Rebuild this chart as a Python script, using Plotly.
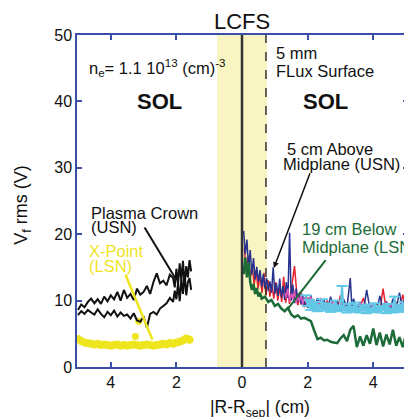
import plotly.graph_objects as go

# ---------------- data ----------------
# Left side (plotted at negative positions, labelled as |R-Rsep|)
crown_x = [-5.0,-4.9,-4.8,-4.7,-4.6,-4.5,-4.4,-4.3,-4.2,-4.1,-4.0,-3.9,-3.8,-3.7,-3.6,-3.5,-3.4,-3.3,-3.2,-3.1,-3.0,-2.9,-2.8,-2.7,-2.6,-2.5,-2.4,-2.3,-2.2,-2.1,-2.05,-2.0,-1.95,-1.9,-1.85,-1.8,-1.75,-1.7,-1.65,-1.6,-1.55]
crown_a = [8.6,9.4,9.0,9.8,10.3,9.6,10.2,9.5,10.6,9.9,10.8,10.2,11.3,10.0,11.6,10.4,11.0,10.1,11.8,10.9,11.3,12.2,11.0,12.8,14.1,12.6,13.0,12.3,13.9,13.4,12.0,14.8,12.5,15.6,13.0,16.0,12.2,15.2,13.5,16.1,14.4]
crown_b = [7.8,8.4,8.0,8.6,8.2,7.9,8.7,8.0,7.5,8.3,7.8,8.5,7.6,8.2,7.7,7.9,7.3,8.1,7.0,6.8,7.6,5.9,8.0,8.3,7.9,8.8,9.2,9.6,10.4,9.8,11.5,10.2,12.6,9.9,13.2,11.0,14.0,10.8,12.8,13.4,11.6]

xpt_x = [-5.0,-4.9,-4.8,-4.7,-4.6,-4.5,-4.4,-4.3,-4.2,-4.1,-4.0,-3.9,-3.8,-3.7,-3.6,-3.5,-3.4,-3.3,-3.2,-3.1,-3.0,-2.9,-2.8,-2.7,-2.6,-2.5,-2.4,-2.3,-2.2,-2.1,-2.0,-1.9,-1.8,-1.7,-1.6]
xpt_y = [4.2,3.9,3.7,3.6,3.5,3.4,3.5,3.3,3.4,3.3,3.2,3.3,3.4,3.2,3.3,3.2,3.3,3.4,3.3,3.2,3.3,3.4,3.3,3.2,3.3,3.4,3.5,3.4,3.6,3.5,3.7,3.8,4.0,4.3,4.1]
xpt_out_x = [-3.25, -3.15]
xpt_out_y = [4.6, 6.9]

# Right side
blue_x = [0.05,0.1,0.15,0.2,0.25,0.3,0.35,0.4,0.45,0.5,0.55,0.6,0.65,0.7,0.75,0.8,0.85,0.9,0.95,1.0,1.05,1.1,1.15,1.2,1.25,1.3,1.35,1.4,1.45,1.5,1.55,1.6,1.65,1.7,1.75,1.8,1.85,1.9,1.95,2.0,2.1,2.2,2.3,2.4,2.5,2.6,2.7,2.8,2.9,3.0,3.1,3.2,3.3,3.35,3.4,3.5,3.6,3.7,3.8,3.9,4.0,4.1,4.2,4.3,4.4,4.5,4.6,4.7,4.8,4.9,5.0]
blue_y = [20.5,17.0,19.2,14.8,17.6,13.9,16.4,13.2,15.1,12.8,14.6,12.1,14.0,11.8,13.4,11.5,12.9,11.2,15.0,11.0,12.6,10.7,13.3,10.5,12.2,10.1,12.8,10.4,20.2,10.0,12.4,9.6,11.8,9.8,11.2,9.4,10.9,9.1,10.6,8.9,10.8,8.6,10.4,8.8,10.1,8.5,10.6,8.7,9.9,8.4,10.2,8.9,13.4,9.0,10.3,8.6,9.8,8.4,11.6,8.7,9.5,8.3,10.7,8.6,9.9,8.2,10.3,8.8,11.2,8.5,10.0]

red_x = [0.07,0.13,0.19,0.25,0.31,0.37,0.43,0.49,0.55,0.61,0.67,0.73,0.79,0.85,0.91,0.97,1.03,1.09,1.15,1.21,1.27,1.33,1.39,1.45,1.51,1.6,1.7,1.8,1.9,2.0,2.1,2.2,2.3,2.4,2.5,2.6,2.7,2.8,2.9,3.0,3.1,3.2,3.3,3.4,3.5,3.6,3.7,3.8,3.9,4.0,4.1,4.2,4.3,4.4,4.5,4.6,4.7,4.8,4.9,5.0]
red_y = [18.0,14.5,16.8,13.2,15.5,12.4,14.6,11.8,13.9,11.2,14.2,10.8,13.1,10.6,12.5,10.3,12.8,10.0,12.0,9.8,13.6,9.7,11.5,9.5,11.9,15.2,9.3,11.2,9.0,10.5,8.8,9.9,8.5,10.2,8.7,10.0,8.4,9.4,8.6,10.8,8.5,9.3,8.4,9.7,8.6,9.1,10.4,8.5,9.2,8.2,9.6,8.5,11.8,8.4,9.3,8.6,9.8,8.3,10.9,9.0]

pink_x = [1.3,1.35,1.4,1.45,1.5,1.55,1.6,1.65,1.7,1.75,1.8,1.85,1.9,1.95,2.0,2.05,2.1,2.15,2.2,2.25,2.3,2.35,2.4,2.45,2.5,2.6,2.8,3.0,3.2,3.4,3.6,3.8,4.0,4.2,4.4,4.6,4.8,5.0]
pink_y = [11.2,10.4,11.8,9.9,11.0,10.2,11.5,9.6,10.8,9.8,10.9,9.4,10.5,9.7,10.3,9.2,10.6,9.5,10.1,9.0,9.9,9.3,10.4,8.9,9.6,9.2,9.8,9.0,9.5,8.8,9.6,9.1,9.3,8.9,9.7,9.0,9.4,9.2]

lb_x = [1.95,2.0,2.05,2.1,2.15,2.2,2.25,2.3,2.35,2.4,2.45,2.5,2.55,2.6,2.65,2.7,2.75,2.8,2.85,2.9,2.95,3.0,3.05,3.1,3.15,3.2,3.25,3.3,3.35,3.4,3.45,3.5,3.55,3.6,3.65,3.7,3.75,3.8,3.85,3.9,3.95,4.0,4.05,4.1,4.15,4.2,4.25,4.3,4.35,4.4,4.45,4.5,4.55,4.6,4.65,4.7,4.75,4.8,4.85,4.9,4.95,5.0]
lb_y = [10.8,9.2,10.1,8.6,9.5,8.9,9.8,8.4,9.3,8.8,10.2,8.5,9.6,8.7,9.1,8.3,9.4,8.6,10.0,8.4,9.2,8.8,12.2,8.5,9.0,8.2,9.5,8.6,9.1,8.3,9.7,8.5,8.9,8.2,9.3,8.6,9.0,8.1,9.4,8.5,8.8,8.3,9.6,8.4,9.0,8.2,9.2,8.6,8.9,8.1,9.5,8.4,8.8,8.2,10.6,8.5,9.1,8.3,9.4,8.6,9.8,8.8]

green_x = [0.05,0.1,0.15,0.2,0.25,0.3,0.35,0.4,0.45,0.5,0.55,0.6,0.7,0.8,0.9,1.0,1.1,1.2,1.3,1.4,1.5,1.6,1.7,1.8,1.9,2.0,2.1,2.2,2.3,2.4,2.5,2.6,2.7,2.8,2.9,3.0,3.1,3.2,3.3,3.4,3.5,3.6,3.7,3.8,3.9,4.0,4.1,4.2,4.3,4.4,4.5,4.6,4.7,4.8,4.9,5.0]
green_y = [14.0,16.5,13.5,15.8,12.8,11.6,12.5,11.0,11.9,10.6,11.2,10.3,10.6,9.8,10.1,9.2,9.5,8.8,8.4,8.9,7.9,7.5,7.8,7.3,7.4,7.1,6.9,5.5,4.2,4.4,4.0,4.1,3.8,3.7,3.6,4.3,4.8,3.9,5.6,6.2,3.0,4.6,3.2,4.8,3.5,5.8,3.3,5.2,3.1,4.9,3.4,5.6,3.2,4.5,3.0,5.0]

x_tickvals = [-4, -2, 0, 2, 4]
x_ticktext = ["4", "2", "0", "2", "4"]
y_tickvals = [0, 10, 20, 30, 40, 50]

# ---------------- figure ----------------
AX = "#3c4fa8"
FONT = "Liberation Sans, Arial, sans-serif"
YEL = "#efe51f"
GRN = "#1c6b38"
BLK = "#111111"
TS = 16.5

fig = go.Figure()

fig.add_trace(go.Scatter(x=xpt_x, y=xpt_y, mode="lines+markers",
                         line=dict(color=YEL, width=6),
                         marker=dict(color=YEL, size=8)))
fig.add_trace(go.Scatter(x=xpt_out_x, y=xpt_out_y, mode="markers",
                         marker=dict(color=YEL, size=7)))
fig.add_trace(go.Scatter(x=crown_x, y=crown_a, mode="lines",
                         line=dict(color=BLK, width=2)))
fig.add_trace(go.Scatter(x=crown_x, y=crown_b, mode="lines",
                         line=dict(color=BLK, width=2)))

fig.add_trace(go.Scatter(x=red_x, y=red_y, mode="lines",
                         line=dict(color="#e3222c", width=1.5)))
fig.add_trace(go.Scatter(x=blue_x, y=blue_y, mode="lines",
                         line=dict(color="#27338f", width=1.5)))
fig.add_trace(go.Scatter(x=pink_x, y=pink_y, mode="lines",
                         line=dict(color="#e055b5", width=1.5)))
fig.add_trace(go.Scatter(x=lb_x, y=lb_y, mode="lines+markers",
                         line=dict(color="#62c8e6", width=2),
                         marker=dict(symbol="line-ew-open", size=8,
                                     line=dict(color="#62c8e6", width=2))))
fig.add_trace(go.Scatter(x=green_x, y=green_y, mode="lines",
                         line=dict(color=GRN, width=2.5)))

# Shapes: LCFS band and lines, annotation pointers
fig.add_shape(type="rect", x0=-0.76, x1=0.76, y0=0, y1=50, xref="x", yref="y",
              fillcolor="#f8f5c2", line=dict(width=0), layer="below")
fig.add_shape(type="line", x0=0, x1=0, y0=0, y1=50, xref="x", yref="y",
              line=dict(color="#333333", width=2.5))
fig.add_shape(type="line", x0=0.73, x1=0.73, y0=0, y1=50, xref="x", yref="y",
              line=dict(color="#333333", width=1.5, dash="dash"))
fig.add_shape(type="line", x0=-2.97, y0=21.0, x1=-2.0, y1=13.1,
              line=dict(color=BLK, width=2))
fig.add_shape(type="line", x0=-3.55, y0=13.9, x1=-2.73, y1=4.1,
              line=dict(color=YEL, width=2.5))
fig.add_shape(type="line", x0=2.55, y0=16.1, x1=1.42, y1=8.9,
              line=dict(color=GRN, width=2))
fig.add_annotation(x=0.97, y=14.9, ax=2.09, ay=29.4, axref="x", ayref="y",
                   showarrow=True, arrowhead=2, arrowsize=0.8, arrowwidth=1.5,
                   arrowcolor=BLK, text="")


def label(x, y, text, color=BLK, size=TS, xanchor="left"):
    fig.add_annotation(x=x, y=y, text=text, showarrow=False, xanchor=xanchor,
                       yanchor="middle", font=dict(family=FONT, size=size, color=color))


fig.add_annotation(x=0, y=1.04, xref="x", yref="paper", text="LCFS",
                   showarrow=False, font=dict(family=FONT, size=22, color=BLK),
                   yanchor="middle")
label(-4.72, 45.0, "n<sub>e</sub>= 1.1 10<sup>13</sup> (cm)<sup>-3</sup>")
label(-2.52, 40, "<b>SOL</b>", size=22, xanchor="center")
label(2.55, 40, "<b>SOL</b>", size=22, xanchor="center")
label(0.98, 47.3, "5 mm")
label(0.98, 44.6, "FLux Surface")
label(2.68, 32.9, "5 cm Above", xanchor="center")
label(3.02, 30.5, "Midplane (USN)", xanchor="center")
label(1.77, 20.8, "19 cm Below", color=GRN)
label(1.77, 18.1, "Midplane (LSN)", color=GRN)
label(-4.66, 23.2, "Plasma Crown")
label(-4.66, 21.1, "(USN)")
label(-4.72, 17.5, "X-Point", color=YEL)
label(-4.72, 15.2, "(LSN)", color=YEL)

# axis titles
fig.add_annotation(x=-0.165, y=0.49, xref="paper", yref="paper", textangle=-90,
                   text="V<sub>f</sub> rms (V)", showarrow=False,
                   xanchor="center", yanchor="middle",
                   font=dict(family=FONT, size=18, color=BLK))
fig.add_annotation(x=0.553, y=-0.085, xref="paper", yref="paper",
                   text="|R-R<sub>sep</sub>| (cm)", showarrow=False,
                   xanchor="center", yanchor="top",
                   font=dict(family=FONT, size=17.5, color=BLK))

# page body adds an 8px offset, so size the figure to fit inside 412x417
fig.update_layout(
    width=404, height=409,
    margin=dict(l=69, r=2, t=27, b=50),
    paper_bgcolor="white", plot_bgcolor="white",
    showlegend=False,
    font=dict(family=FONT, size=15, color=BLK),
    xaxis=dict(range=[-5.03, 5.06], tickvals=x_tickvals, ticktext=x_ticktext,
               showgrid=False, zeroline=False, showline=True, linecolor=AX,
               linewidth=1.5, mirror="ticks", ticks="inside", ticklen=5,
               tickcolor=AX, tickwidth=1.5, tickfont=dict(size=16)),
    yaxis=dict(range=[0, 50], tickvals=y_tickvals,
               showgrid=False, zeroline=False, showline=True, linecolor=AX,
               linewidth=1.5, mirror="ticks", ticks="inside", ticklen=5,
               tickcolor=AX, tickwidth=1.5, tickfont=dict(size=16)),
)

fig.write_html("out.html")
